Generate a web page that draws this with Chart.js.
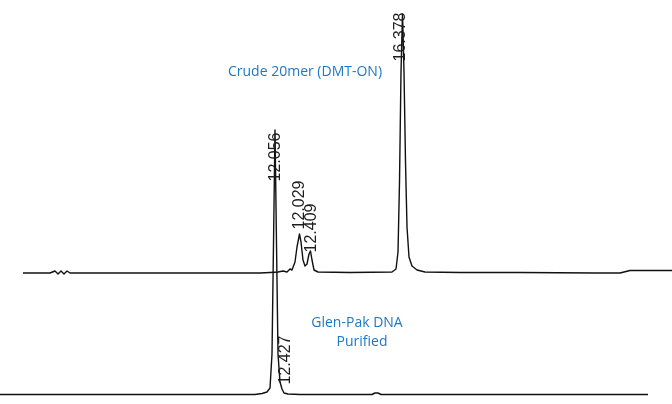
<!DOCTYPE html>
<html>
<head>
<meta charset="utf-8">
<script src="https://cdn.jsdelivr.net/npm/chart.js@4"></script>
<style>
html,body{margin:0;padding:0;background:#fff;}
#wrap{width:672px;height:404px;position:relative;}
</style>
</head>
<body>
<div id="wrap"><canvas id="c" width="672" height="404"></canvas></div>
<script>
// Retention time (min) and detector signal (mAU)
const crudeTime = [1.15, 2.5, 2.75, 2.9, 3.05, 3.2, 3.35, 3.5, 7.5, 13.0, 13.5, 13.9, 14.15, 14.35, 14.5, 14.6, 14.75, 14.85, 14.975, 15.05, 15.15, 15.25, 15.35, 15.45, 15.525, 15.6, 15.7, 15.9, 17.5, 19.6, 19.8, 19.9, 19.975, 20.05, 20.125, 20.2, 20.275, 20.35, 20.45, 20.6, 20.85, 21.25, 23.0, 26.0, 29.75, 31.0, 31.5, 32.5, 33.6];
const crudeSignal = [-1, -1, 1, -2, 1, -2, 1, -1, -1, -1, -0.5, 0, 1, 0, 3, 2, 10, 25, 38, 30, 12, 6, 8, 18, 21, 12, 2, 0, -0.5, 0, 3, 20, 90, 200, 258, 200, 110, 45, 15, 6, 2, 0, -0.5, -0.5, -1, -1, 1.5, 1.5, 1.5];

const purifiedTime = [0, 5, 12.75, 13.1, 13.35, 13.5, 13.6, 13.675, 13.75, 13.825, 13.9, 14.0, 14.1, 14.2, 14.4, 15.0, 18.6, 18.75, 18.9, 19.05, 32.4];
const purifiedSignal = [-0.5, -0.5, -0.5, 0.5, 2, 6, 40, 150, 264, 150, 40, 12, 5, 1, 0, -0.5, -0.5, 1, 1, -0.5, -0.5];

const crudeOffset = 122;   // vertical stacking offset of the upper trace
const purifiedOffset = 0;

const peakLabels = ["12.056", "12.029", "12.409", "16.378", "12.427"];
const seriesLabels = ["Crude 20mer (DMT-ON)", "Glen-Pak DNA", "Purified"];

const toXY = (t, s, off) => t.map((x, i) => ({x: x, y: s[i] + off}));

// text annotations anchored in data coordinates
const peakAnn = [
  {text: peakLabels[0], x: 13.8,  y: 237},
  {text: peakLabels[1], x: 15.0,  y: 189},
  {text: peakLabels[2], x: 15.6,  y: 166},
  {text: peakLabels[3], x: 20.05, y: 357},
  {text: peakLabels[4], x: 14.3,  y: 34}
];
const blueAnn = [
  {text: seriesLabels[0], x: 15.25, y: 322},
  {text: seriesLabels[1], x: 17.85, y: 71},
  {text: seriesLabels[2], x: 18.1, y: 52}
];

const textPlugin = {
  id: 'texts',
  afterDatasetsDraw(chart) {
    const ctx = chart.ctx, xs = chart.scales.x, ys = chart.scales.y;
    ctx.save();
    ctx.fillStyle = '#1d1d1d';
    ctx.font = '16px "Liberation Sans", Arial, sans-serif';
    ctx.textAlign = 'center';
    ctx.textBaseline = 'middle';
    peakAnn.forEach(a => {
      ctx.save();
      ctx.translate(xs.getPixelForValue(a.x), ys.getPixelForValue(a.y));
      ctx.rotate(-Math.PI / 2);
      ctx.fillText(a.text, 0, 0);
      ctx.restore();
    });
    ctx.fillStyle = '#1f78c1';
    ctx.font = '14px "Open Sans", "Noto Sans", sans-serif';
    blueAnn.forEach(a => {
      ctx.fillText(a.text, xs.getPixelForValue(a.x), ys.getPixelForValue(a.y));
    });
    ctx.restore();
  }
};

new Chart(document.getElementById('c'), {
  type: 'line',
  data: {
    datasets: [
      {label: seriesLabels[0], data: toXY(crudeTime, crudeSignal, crudeOffset), borderColor: '#111', borderWidth: 1.4, pointRadius: 0, tension: 0, fill: false},
      {label: seriesLabels[1] + ' ' + seriesLabels[2], data: toXY(purifiedTime, purifiedSignal, purifiedOffset), borderColor: '#111', borderWidth: 1.4, pointRadius: 0, tension: 0, fill: false}
    ]
  },
  options: {
    responsive: false,
    animation: false,
    layout: {padding: 0},
    plugins: {legend: {display: false}, tooltip: {enabled: false}},
    elements: {line: {borderJoinStyle: 'round'}},
    clip: false,
    scales: {
      x: {type: 'linear', min: 0, max: 33.6, display: false},
      y: {type: 'linear', min: -10, max: 394, display: false}
    }
  },
  plugins: [textPlugin]
});
</script>
</body>
</html>
